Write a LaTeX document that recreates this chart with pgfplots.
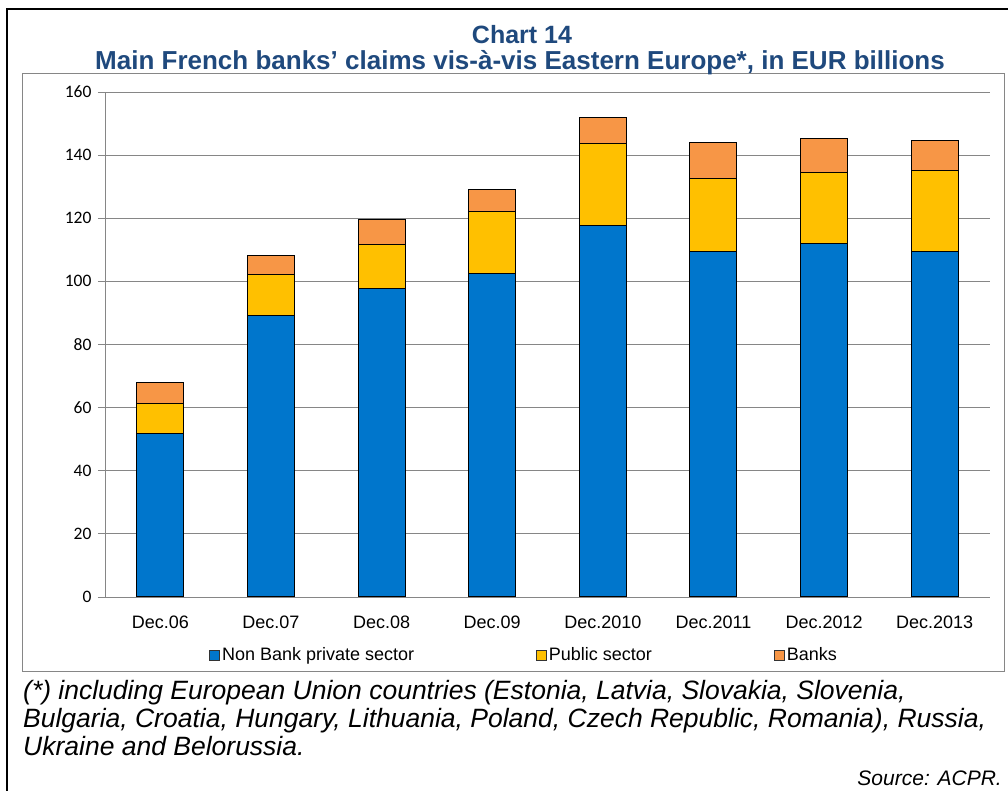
\documentclass[border=0pt]{standalone}
\usepackage{pgfplots}
\pgfplotsset{compat=1.18}
\usepackage{fontspec}
\setmainfont{Liberation Sans}
\newfontfamily\ylabfont{Carlito}
\definecolor{titleblue}{RGB}{31,73,125}
\definecolor{barblue}{RGB}{0,118,204}
\definecolor{baryellow}{RGB}{255,192,0}
\definecolor{barorange}{RGB}{247,150,70}
\definecolor{gridgrey}{RGB}{134,134,134}

\begin{document}
\begin{tikzpicture}[x=1pt,y=1pt]
\begin{axis}[
    at={(0,0)}, anchor=south west,
    scale only axis,
    width=885pt, height=505pt,
    ybar stacked,
    bar width=47pt,
    xmin=-0.5, xmax=7.5,
    ymin=0, ymax=160,
    ytick distance=20,
    /pgf/number format/assume math mode=true,
    xtick={0,...,7},
    xticklabels={Dec.06,Dec.07,Dec.08,Dec.09,Dec.2010,Dec.2011,Dec.2012,Dec.2013},
    x tick style={draw=none},
    extra x ticks={-0.5,0.5,...,7.5},
    extra x tick labels={},
    extra x tick style={grid=none, tick style={draw=gridgrey, line width=0.8pt}},
    axis x line*=bottom, axis y line*=left,
    axis line style={draw=gridgrey, line width=0.8pt, -},
    tick align=outside,
    major tick length=7pt,
    y tick style={draw=gridgrey, line width=0.8pt},
    ymajorgrids,
    grid style={draw=gridgrey, line width=0.8pt},
    xticklabel style={font=\fontsize{18}{20}\selectfont, yshift=-8pt},
    yticklabel style={font=\ylabfont\fontsize{17.5}{20}\selectfont, xshift=-3pt},
    legend columns=3,
    legend style={draw=none, at={(419pt,-58pt)}, anchor=center,
        font=\fontsize{18}{20}\selectfont,
        /tikz/every even column/.append style={column sep=120pt}},
    legend cell align=left,
    every axis plot/.append style={draw=black, line width=1pt},
]
\addplot[fill=barblue, legend image code/.code={\draw[fill=barblue, draw=black!80, line width=0.8pt] (0pt,-5pt) rectangle (10pt,5pt);}]
  coordinates {(0,51.9) (1,89.2) (2,97.8) (3,102.6) (4,117.7) (5,109.5) (6,112.0) (7,109.6)};
\addplot[fill=baryellow, legend image code/.code={\draw[fill=baryellow, draw=black!80, line width=0.8pt] (0pt,-5pt) rectangle (10pt,5pt);}]
  coordinates {(0,9.5) (1,13.0) (2,13.9) (3,19.6) (4,25.9) (5,23.2) (6,22.6) (7,25.4)};
\addplot[fill=barorange, legend image code/.code={\draw[fill=barorange, draw=black!80, line width=0.8pt] (0pt,-5pt) rectangle (10pt,5pt);}]
  coordinates {(0,6.5) (1,6.0) (2,7.9) (3,6.9) (4,8.3) (5,11.2) (6,10.6) (7,9.5)};
\legend{Non Bank private sector, Public sector, Banks}
\end{axis}
% inner chart frame
\draw[gridgrey, line width=1pt] (-82,523) rectangle (899,-75);
% outer frame (left and top edges)
\draw[black, line width=2.2pt] (-98,-200) -- (-98,588) -- (910,588);
% title
\node[font=\bfseries\fontsize{25}{28}\selectfont, text=titleblue, anchor=base, inner sep=0pt]
  at (417,553) {Chart 14};
\node[font=\bfseries\fontsize{26}{28}\selectfont, text=titleblue, anchor=base, inner sep=0pt]
  at (415,527) {Main French banks’ claims vis-à-vis Eastern Europe*, in EUR billions};
% footnote
\node[font=\itshape\fontsize{26.5}{28}\selectfont, anchor=north west, align=left, inner sep=0pt]
  at (-82,-83) {(*) including European Union countries (Estonia, Latvia, Slovakia, Slovenia,\\
Bulgaria, Croatia, Hungary, Lithuania, Poland, Czech Republic, Romania), Russia,\\
Ukraine and Belorussia.};
\node[font=\itshape\fontsize{21}{22}\selectfont, anchor=east, inner sep=0pt]
  at (897,-181) {Source: ACPR.};
\pgfresetboundingbox
\path[use as bounding box] (-105,-194) rectangle (903,597);
\end{tikzpicture}
\end{document}
